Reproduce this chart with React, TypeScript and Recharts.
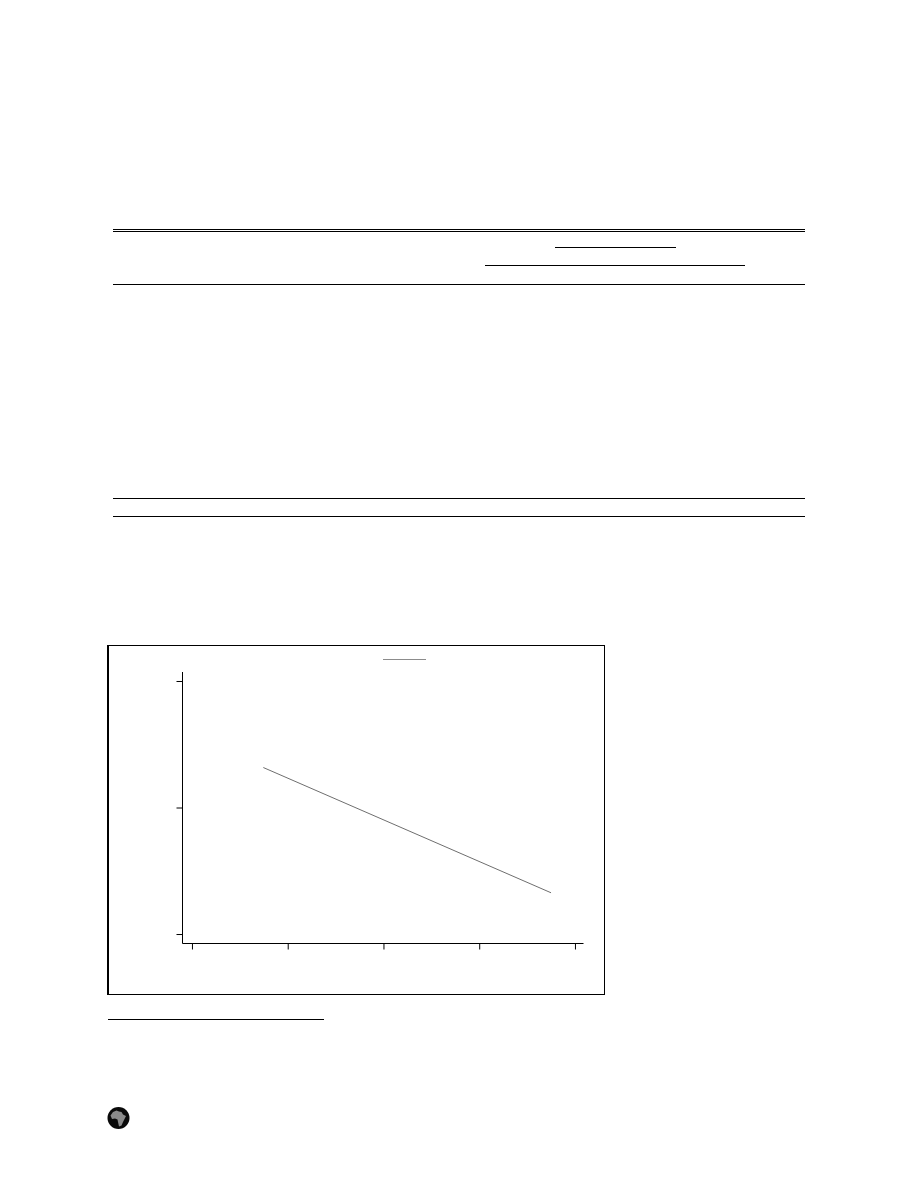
import { CartesianGrid, Legend, Line, LineChart, XAxis, YAxis } from "recharts";

// both ends of the fitted line
const xValues = [0.74, 3.745];
const yValues = [1.32, 0.33];
const xTicks = [0, 1, 2, 3, 4];
const yTicks = [0, 1, 2];
const seriesName = "fit";

const data = xValues.map((x, i) => ({ x, y: yValues[i] }));

// page furniture around the figure: [left, top, width, height]
const rules = [
  [113, 229, 692, 1],
  [113, 231, 692, 1],
  [555, 247, 121, 1],
  [485, 265, 260, 1],
  [113, 284, 692, 1],
  [113, 498, 692, 1],
  [113, 516, 692, 1],
  [108, 1019, 216, 1],
];

function LegendKey() {
  return (
    <svg width={44} height={4} style={{ display: "block" }}>
      <line x1={0} y1={1.5} x2={43} y2={1.5} stroke="#8c8c8c" strokeWidth={1} />
    </svg>
  );
}

function Badge() {
  return (
    <svg
      width={24}
      height={24}
      viewBox="0 0 24 24"
      style={{ position: "absolute", left: 107, top: 1106 }}
    >
      <circle cx={11.5} cy={12} r={11} fill="#0a0a0a" />
      <path
        d="M3.5 9.5 L6 6 L9.5 4.5 L12 5.5 L14.5 6 L16 8.5 L19 10 L17.5 13 L16 16 L14.5 19.5 L12 20.5 L11 16 L10.5 13.5 L8 12.5 L5 13 Z"
        fill="#8a8a8a"
      />
    </svg>
  );
}

export default function App() {
  return (
    <div style={{ position: "relative", width: 918, height: 1188, margin: -8, background: "#fff" }}>
      {rules.map(([left, top, width, height], i) => (
        <div key={i} style={{ position: "absolute", left, top, width, height, background: "#000" }} />
      ))}
      <div
        style={{
          position: "absolute",
          left: 107,
          top: 645,
          width: 498,
          height: 350,
          boxSizing: "border-box",
          borderStyle: "solid",
          borderColor: "#000",
          borderWidth: "1px 1px 1px 2px",
        }}
      />
      <div style={{ position: "absolute", left: 107, top: 645 }}>
        <LineChart
          width={498}
          height={350}
          data={data}
          margin={{ top: 23, right: 21.5, bottom: 21.5, left: 15.5 }}
        >
          <CartesianGrid horizontal={false} vertical={false} />
          <XAxis
            dataKey="x"
            type="number"
            domain={[-0.104, 4.084]}
            ticks={xTicks}
            tickFormatter={() => ""}
            tickSize={6}
            height={30}
            stroke="#000"
            allowDataOverflow
          />
          <YAxis
            type="number"
            domain={[-0.071, 2.075]}
            ticks={yTicks}
            tickFormatter={() => ""}
            tickSize={6}
            width={60}
            stroke="#000"
            allowDataOverflow
          />
          <Legend
            content={<LegendKey />}
            verticalAlign="top"
            height={0}
            wrapperStyle={{ left: 276, top: 13, width: 44 }}
          />
          <Line
            dataKey="y"
            name={seriesName}
            stroke="#6e6e6e"
            strokeWidth={1}
            dot={false}
            isAnimationActive={false}
          />
        </LineChart>
      </div>
      <Badge />
    </div>
  );
}
